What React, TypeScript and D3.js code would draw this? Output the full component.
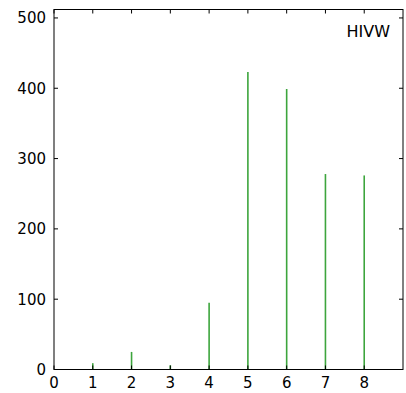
import React from "react";
import * as d3 from "d3";

const positions = [1, 2, 3, 4, 5, 6, 7, 8];
const counts = [9, 25, 6, 95, 423, 399, 278, 276];
const xTicks = [0, 1, 2, 3, 4, 5, 6, 7, 8];
const yTicks = [0, 100, 200, 300, 400, 500];
const label = "HIVW";

export default function App() {
  const W = 406, H = 393;
  const left = 54, right = 403, top = 9.5, bottom = 369.5;
  const x = d3.scaleLinear().domain([0, 9]).range([left, right]);
  const y = d3.scaleLinear().domain([0, 512]).range([bottom, top]);
  const font = "DejaVu Sans, sans-serif";
  const tl = 4;
  return (
    <svg width={W} height={H} style={{ position: "absolute", left: 0, top: 0 }}>
      <rect x={0} y={0} width={W} height={H} fill="white" />
      {positions.map((p, i) => (
        <line key={i} x1={x(p)} x2={x(p)} y1={y(0)} y2={y(counts[i])} stroke="#3da53d" strokeWidth={1.6} />
      ))}
      {yTicks.map((t) => (
        <g key={"y" + t}>
          <line x1={left} x2={left + tl} y1={y(t)} y2={y(t)} stroke="#000" strokeWidth={1} />
          <line x1={right} x2={right - tl} y1={y(t)} y2={y(t)} stroke="#000" strokeWidth={1} />
          <text x={left - 8} y={y(t)} dy="0.36em" textAnchor="end" fontFamily={font} fontSize={15} fill="#000">{t}</text>
        </g>
      ))}
      {xTicks.map((t) => (
        <g key={"x" + t}>
          <line x1={x(t)} x2={x(t)} y1={bottom} y2={bottom - tl} stroke="#000" strokeWidth={1} />
          <line x1={x(t)} x2={x(t)} y1={top} y2={top + tl} stroke="#000" strokeWidth={1} />
          <text x={x(t)} y={bottom + 18} textAnchor="middle" fontFamily={font} fontSize={15} fill="#000">{t}</text>
        </g>
      ))}
      <rect x={left} y={top} width={right - left} height={bottom - top} fill="none" stroke="#000" strokeWidth={1} />
      <text x={390} y={37} textAnchor="end" fontFamily={font} fontSize={16} fill="#000">{label}</text>
    </svg>
  );
}
